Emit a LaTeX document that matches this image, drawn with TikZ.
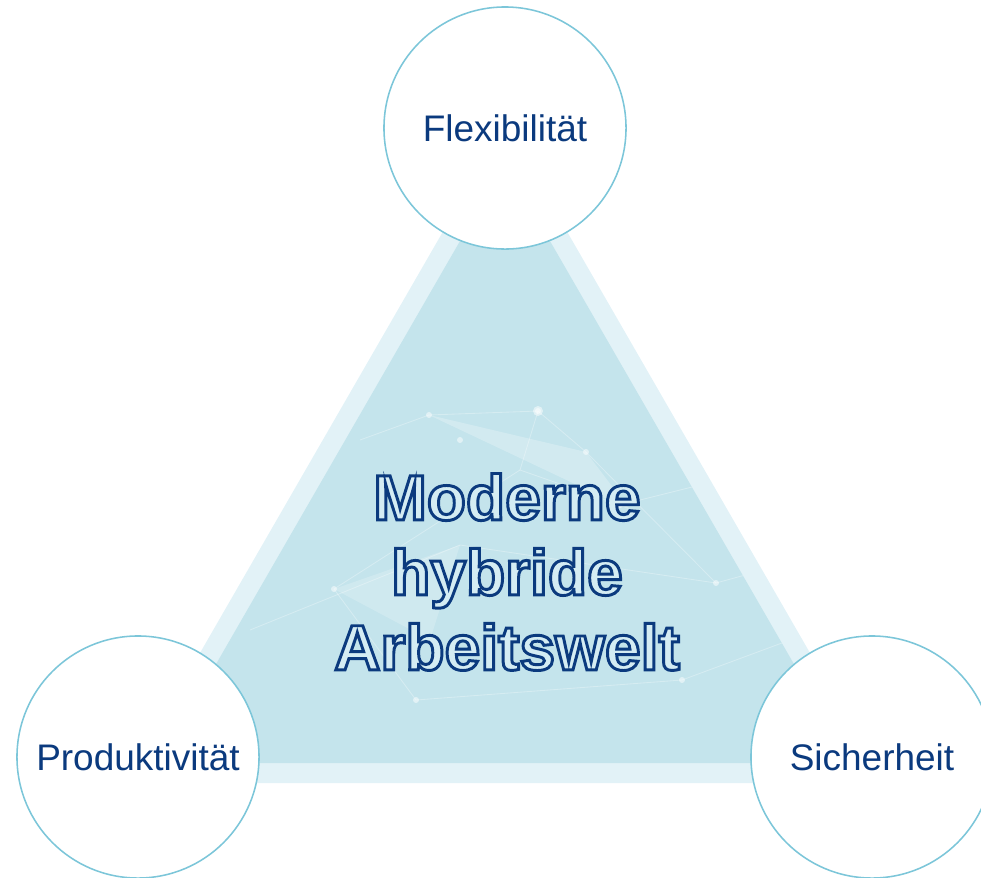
\documentclass[tikz,border=0pt]{standalone}
\usepackage{fontspec}
\setmainfont{Liberation Sans}
\definecolor{bandblue}{HTML}{E2F2F7}
\definecolor{coreblue}{HTML}{C4E4EC}
\definecolor{ringblue}{HTML}{7CC6D9}
\definecolor{textblue}{HTML}{0B3A7E}
\definecolor{glyphfill}{HTML}{D4ECF3}
\newcommand{\hollow}[1]{{\color{glyphfill}%
  \special{pdf:literal direct 2 Tr 2.1 w 0.043 0.227 0.494 RG}#1%
  \special{pdf:literal direct 0 Tr}}}

\begin{document}
\begin{tikzpicture}[x=0.025cm, y=-0.025cm,
  pillar/.style={circle, draw=ringblue, line width=1.1pt, fill=white,
    minimum size=6.05cm, inner sep=0pt, text=textblue,
    font=\fontsize{26.3}{30}\selectfont},
  netline/.style={white, opacity=0.3, line width=0.6pt},
  netdot/.style={white, opacity=0.5}]
  \useasboundingbox (0,0) rectangle (981,877);

  % Draw the light outer band of the triangle
  \fill[bandblue] (505,124) -- (125,783) -- (885,783) -- cycle;
  % Draw the darker inner triangle
  \fill[coreblue] (505,163) -- (159,763) -- (851,763) -- cycle;

  % Faint network lines inside the triangle
  \begin{scope}
    \clip (505,163) -- (159,763) -- (851,763) -- cycle;
    \fill[white, opacity=0.25] (429,415) -- (586,452) -- (630,510) -- cycle;
    \fill[white, opacity=0.2] (334,589) -- (460,545) -- (430,640) -- cycle;
    \draw[netline] (429,415) -- (538,411) -- (586,452);
    \draw[netline] (538,411) -- (520,470) -- (620,505);
    \draw[netline] (586,452) -- (716,583) -- (800,560);
    \draw[netline] (334,589) -- (520,470);
    \draw[netline] (334,589) -- (416,700) -- (682,680);
    \draw[netline] (250,630) -- (460,545) -- (716,583);
    \draw[netline] (620,505) -- (760,470);
    \draw[netline] (360,440) -- (429,415);
    \draw[netline] (682,680) -- (790,640);
    \foreach \p in {(538,411),(429,415),(586,452),(716,583),(334,589),(682,680),(416,700),(620,505),(460,440)}
      \fill[netdot] \p circle (3);
    \fill[netdot] (538,411) circle (5);
  \end{scope}

  % Draw the three corner circles
  \node[pillar] (flex) at (505,128) {Flexibilität};
  \node[pillar] (prod) at (138,757) {Produktivität};
  \node[pillar] (sich) at (872,757) {Sicherheit};

  % Outlined title in the middle
  \node[align=center, font=\fontsize{45.6}{53.3}\selectfont\bfseries] (title) at (507,572)
    {\hollow{Moderne}\\\hollow{hybride}\\\hollow{Arbeitswelt}};
\end{tikzpicture}
\end{document}
